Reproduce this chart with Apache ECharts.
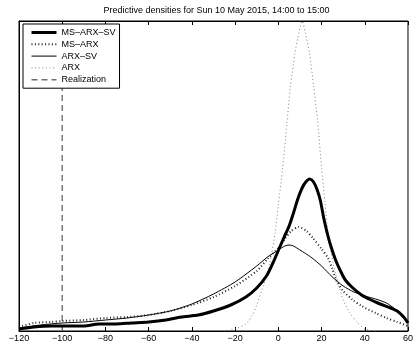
<!DOCTYPE html>
<html>
<head>
<meta charset="utf-8">
<script src="https://cdn.jsdelivr.net/npm/echarts@6/dist/echarts.min.js"></script>
<style>
  html, body { margin: 0; padding: 0; background: #fff; }
  #chart { width: 416px; height: 346px; }
</style>
</head>
<body>
<div id="chart"></div>
<script>
// Predictive densities (arbitrary density units) over the price axis
const titleText = 'Predictive densities for Sun 10 May 2015, 14:00 to 15:00';
const seriesNames = ['MS\u2013ARX\u2013SV', 'MS\u2013ARX', 'ARX\u2013SV', 'ARX', 'Realization'];
const xTicks = { min: -120, max: 60, step: 20 };
const realization = -100;
const densityMax = 0.31;

const msArxSv = [
  [-120, 0.002], [-113, 0.004], [-105, 0.005], [-98, 0.005], [-90, 0.005], [-83, 0.007],
  [-75, 0.007], [-68, 0.008], [-60, 0.009], [-52, 0.011], [-45, 0.014], [-37, 0.016],
  [-30, 0.020], [-22, 0.026], [-15, 0.034], [-10, 0.043], [-5.5, 0.055], [-2.5, 0.068],
  [0.5, 0.083], [2.7, 0.094], [5, 0.105], [7, 0.118], [9, 0.132], [11, 0.143],
  [12.7, 0.149], [14.5, 0.152], [16.3, 0.149], [18, 0.141], [19.5, 0.130], [21, 0.113],
  [22.5, 0.099], [24, 0.087], [26.5, 0.071], [29, 0.059], [31, 0.051], [34, 0.044],
  [38.5, 0.036], [42, 0.032], [46, 0.028], [52, 0.023], [55, 0.020], [58, 0.014], [60, 0.008]
];

const msArx = [
  [-120, 0.004], [-113, 0.008], [-105, 0.009], [-100, 0.010], [-90, 0.011], [-80, 0.013],
  [-70, 0.014], [-60, 0.016], [-50, 0.020], [-40, 0.026], [-30, 0.034], [-20, 0.045],
  [-10, 0.060], [-5, 0.072], [0, 0.083], [3, 0.092], [6, 0.100], [9.5, 0.104],
  [13, 0.100], [16, 0.093], [20, 0.082], [23, 0.073], [25, 0.062], [27, 0.050],
  [30, 0.040], [34.5, 0.031], [38.5, 0.025], [45, 0.018], [50, 0.013], [55, 0.009], [60, 0.005]
];

const arxSv = [
  [-120, 0.003], [-110, 0.006], [-100, 0.008], [-90, 0.009], [-80, 0.011], [-70, 0.013],
  [-60, 0.016], [-50, 0.020], [-40, 0.027], [-30, 0.037], [-20, 0.049], [-10, 0.065],
  [-5, 0.074], [0, 0.081], [3, 0.085], [5, 0.086], [7, 0.085], [10, 0.081],
  [15, 0.074], [20, 0.065], [25, 0.054], [30, 0.045], [35, 0.039], [40, 0.035],
  [45, 0.032], [50, 0.028], [54, 0.022], [57, 0.015], [60, 0.008]
];

const arx = [
  [-25, 0.000], [-20, 0.002], [-15, 0.007], [-12, 0.016], [-10, 0.026], [-7, 0.045],
  [-4, 0.068], [-1.5, 0.098], [0, 0.126], [2, 0.163], [4, 0.208], [5.5, 0.243],
  [7.7, 0.278], [9.5, 0.298], [11, 0.310], [12.5, 0.298], [14.4, 0.278], [16.4, 0.244],
  [18.2, 0.210], [20, 0.163], [21.6, 0.128], [23, 0.098], [25.5, 0.066], [28, 0.045],
  [30, 0.031], [33, 0.018], [36, 0.010], [40, 0.002], [45, 0.000]
];

const font = "'Liberation Sans', Arial, Helvetica, sans-serif";
const fmtTick = v => (v < 0 ? '\u2212' + Math.abs(v) : String(v));

const chart = echarts.init(document.getElementById('chart'), null, { renderer: 'canvas' });

const curve = (name, data, lineStyle, z) => ({
  name, type: 'line', data, symbol: 'none', showSymbol: false, smooth: 0.25,
  lineStyle, itemStyle: { color: lineStyle.color }, z, silent: true
});

chart.setOption({
  animation: false,
  backgroundColor: '#fff',
  textStyle: { fontFamily: font },
  title: {
    text: titleText, left: 216.5, textAlign: 'center', top: 6, padding: 0,
    textStyle: { fontSize: 9, fontWeight: 'normal', color: '#000', fontFamily: font }
  },
  grid: {
    left: 19, right: 2, top: 21, bottom: 15,
    show: true, borderColor: '#000', borderWidth: 1, backgroundColor: 'transparent'
  },
  legend: {
    orient: 'vertical', left: 23, top: 24,
    padding: [4, 4, 4, 7], itemGap: 2.8, itemWidth: 25, itemHeight: 8,
    backgroundColor: '#fff', borderColor: '#000', borderWidth: 1,
    selectedMode: false,
    itemStyle: { opacity: 0 },
    lineStyle: { width: 'inherit' },
    textStyle: { fontSize: 9, color: '#000', fontFamily: font },
    data: seriesNames
  },
  xAxis: [
    {
      type: 'value', min: xTicks.min, max: xTicks.max, interval: xTicks.step,
      axisLine: { onZero: false, lineStyle: { color: '#000', width: 1 } },
      axisTick: { inside: true, length: 4, lineStyle: { color: '#000' } },
      axisLabel: { formatter: fmtTick, fontSize: 9, color: '#000', margin: 3, fontFamily: font },
      splitLine: { show: false }
    },
    {
      type: 'value', position: 'top', min: xTicks.min, max: xTicks.max, interval: xTicks.step,
      axisLine: { onZero: false, lineStyle: { color: '#000', width: 1 } },
      axisTick: { inside: true, length: 4, lineStyle: { color: '#000' } },
      axisLabel: { show: false },
      splitLine: { show: false }
    }
  ],
  yAxis: {
    type: 'value', min: 0, max: densityMax,
    axisLine: { show: true, onZero: false, lineStyle: { color: '#000', width: 1 } },
    axisTick: { show: false }, axisLabel: { show: false }, splitLine: { show: false }
  },
  series: [
    curve(seriesNames[0], msArxSv, { color: '#000', width: 3 }, 6),
    curve(seriesNames[1], msArx, { color: '#222', width: 2, type: [1, 2.4] }, 5),
    curve(seriesNames[2], arxSv, { color: '#000', width: 1 }, 4),
    curve(seriesNames[3], arx, { color: '#808080', width: 1, type: [1, 2.6] }, 3),
    {
      name: seriesNames[4], type: 'line', symbol: 'none', showSymbol: false, silent: true, z: 2,
      data: [[realization, 0], [realization, densityMax]],
      itemStyle: { color: '#707070' },
      lineStyle: { color: '#707070', width: 1.4, type: [6, 4] }
    }
  ]
});
</script>
</body>
</html>
